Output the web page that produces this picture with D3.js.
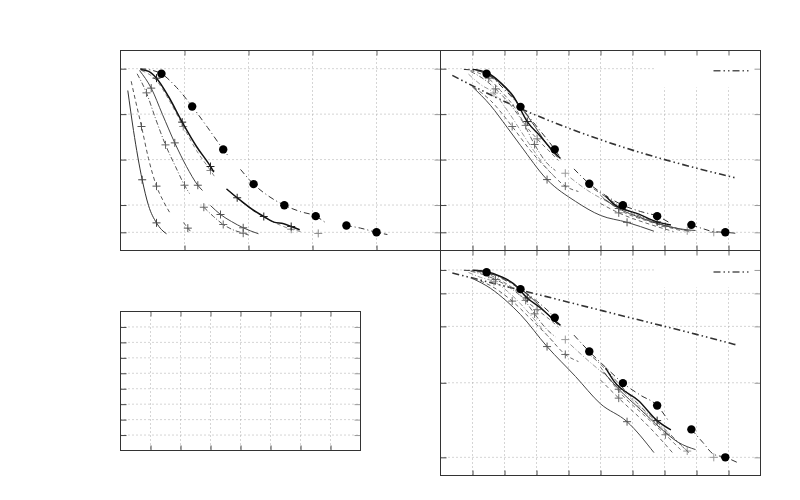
<!DOCTYPE html>
<html><head><meta charset="utf-8">
<script src="https://cdn.jsdelivr.net/npm/d3@7"></script>
<style>html,body{margin:0;padding:0;background:#fff;}svg{display:block;}</style>
</head><body>
<svg id="c" width="800" height="500"></svg>
<script>
// ---------- tick values ----------
const p1XTicks = [1, 2, 3, 4];
const p2XTicks = [1, 2, 3, 4, 5, 6, 7, 8, 9];
const yTicks = [0.1, 0.25, 0.5, 0.75, 1.0];
const p4XTicks = [1, 2, 3, 4, 5, 6, 7];
const p4YTicks = [1, 2, 3, 4, 5, 6, 7, 8];

// ---------- panel 1 series (x, y); null = gap ----------
const p1DotLine = [[0.31,1.0],[0.47,0.993],[0.64,0.972],[0.875,0.897],[1.12,0.792],[1.36,0.677],[1.605,0.556],[1.69,0.517],null,
  [1.875,0.446],[2.08,0.365],[2.31,0.30],[2.56,0.249],[2.81,0.214],[3.05,0.189],[3.20,0.154],null,
  [3.52,0.1375],[3.75,0.123],[4.0,0.1],[4.17,0.088]];
const p1DotMarks = [[0.64,0.972],[1.12,0.792],[1.605,0.556],[2.08,0.365],[2.56,0.249],[3.05,0.189],[3.53,0.1375],[4.0,0.1]];
const p1BoldLine = [[0.31,0.996],[0.44,0.985],[0.5625,0.948],[0.75,0.847],[0.964,0.706],[1.1875,0.572],[1.406,0.462],[1.458,0.431],null,
  [1.656,0.339],[1.823,0.29],[2.083,0.22],[2.239,0.187],[2.396,0.156],[2.55,0.147],[2.667,0.132],[2.80,0.114]];
const p1BoldMarks = [[0.5625,0.948],[0.964,0.706],[1.406,0.462],[1.823,0.29],[2.239,0.187],[2.667,0.132]];
const p1GrayLine = [[0.33,0.99],[0.5625,0.935],[0.78,0.814],[0.98,0.682],[1.1875,0.55],[1.406,0.44],[1.469,0.407],null,
  [1.72,0.319],[2.03,0.231],[2.344,0.165],[2.667,0.117],[2.8125,0.1045]];
const p1GrayMarks = [[0.98,0.682],[1.406,0.44],[2.667,0.117],[3.09,0.094]];
const p1CLine = [[0.26,0.972],[0.406,0.867],[0.547,0.726],[0.703,0.581],[0.859,0.462],[1.0,0.359],[1.078,0.3135],null,
  [1.302,0.238],[1.453,0.187],[1.605,0.143],[1.75,0.115],[1.917,0.095],[2.0,0.085]];
const p1CMarks = [[0.406,0.867],[0.703,0.581],[1.0,0.359],[1.302,0.238],[1.605,0.143],[1.917,0.095]];
const p1DLine = [[0.297,0.99],[0.48,0.893],[0.656,0.748],[0.848,0.592],[1.031,0.462],[1.208,0.359],[1.281,0.330],null,
  [1.406,0.2475],[1.5625,0.198],[1.734,0.1595],[1.917,0.125],[2.156,0.092]];
const p1DMarks = [[0.48,0.893],[0.848,0.592],[1.208,0.359],[1.5625,0.198],[1.917,0.125]];
const p1BLine = [[0.167,0.931],[0.234,0.825],[0.328,0.682],[0.4375,0.506],[0.5625,0.354],[0.672,0.27],[0.781,0.202],null,
  [0.984,0.154],[1.052,0.123],[1.12,0.095]];
const p1BMarks = [[0.328,0.682],[0.5625,0.354],[1.052,0.123]];
const p1ALine = [[0.114,0.88],[0.203,0.66],[0.339,0.389],[0.4375,0.2475],[0.5625,0.152],[0.64,0.115],[0.719,0.092]];
const p1AMarks = [[0.339,0.389],[0.5625,0.152]];

// ---------- panels 2 & 3 series (same data, linear / log y) ----------
const p2DotLine = [[0.73,0.996],[1.09,0.99],[1.44,0.972],[1.97,0.891],[2.5,0.79],[3.03,0.677],[3.57,0.556],[3.70,0.523],null,
  [4.17,0.449],[4.65,0.367],[5.16,0.3025],[5.70,0.249],[6.25,0.2145],[6.77,0.189],[7.13,0.156],null,
  [7.84,0.141],[8.2,0.12],[8.53,0.104],[8.9,0.1],[9.27,0.094]];
const p2DotMarks = [[1.44,0.972],[2.5,0.79],[3.57,0.556],[4.65,0.367],[5.70,0.249],[6.77,0.189],[7.84,0.141],[8.9,0.1]];
const p2RefLine = [[0.37,0.963],[2,0.82],[4,0.673],[6,0.552],[8,0.453],[9.25,0.398]];
const p2S1Line = [[1.0,0.9],[1.5625,0.798],[2.08,0.678],[2.5,0.578],[3.33,0.39],[4.22,0.27],[5.0,0.193],[5.83,0.155],[6.67,0.106]];
const p2S1Marks = [[3.33,0.39],[5.83,0.155]];
const p2D1Line = [[1.04,0.898],[1.5625,0.825],[2.24,0.682],[2.81,0.55],[3.375,0.44],[3.9,0.354],[4.31,0.3245],null,
  [5.0,0.2585],[5.57,0.207],[6.56,0.143],[7.28,0.1045]];
const p2D1Marks = [[2.24,0.682],[3.9,0.354],[5.57,0.207]];
const p2U1Line = [[1.0,0.996],[1.44,0.979],[1.875,0.924],[2.28,0.847],[2.71,0.709],[3.125,0.627],[3.5,0.55],[3.75,0.506],null,
  [5.16,0.30],[5.42,0.255],[6.2,0.2],[6.77,0.157],[7.2,0.14]];
const p2U1Marks = [[2.71,0.709],[6.77,0.157]];
const p2U2Line = [[1.06,0.996],[1.56,0.96],[2.03,0.891],[2.5,0.792],[2.97,0.677],[3.375,0.572],[3.66,0.512],null,
  [5.09,0.286],[5.57,0.231],[6.25,0.18],[6.875,0.143],[7.44,0.12],[7.97,0.11]];
const p2U2Marks = [[1.51,0.948],[5.57,0.231]];
const p2U3Line = [[0.94,0.99],[1.5,0.946],[1.875,0.88],[2.34,0.781],[2.66,0.688],[3.02,0.614],[3.44,0.539],[3.69,0.495],null,
  [5.0,0.303],[5.625,0.22],[6.41,0.165],[7.03,0.132],[7.5,0.11]];
const p2U3Marks = [[2.66,0.688],[3.02,0.614],[7.03,0.132]];
const p2U4Line = [[0.94,0.985],[1.375,0.94],[1.72,0.889],[2.19,0.8],[2.56,0.71],[2.94,0.583],[3.31,0.484],[3.59,0.44],null,
  [4.53,0.369],[5.0,0.314],[5.625,0.242],[6.25,0.187],[7.19,0.132],[7.81,0.104]];
const p2U4Marks = [[1.72,0.889],[2.94,0.583]];
const p2U5Line = [[0.875,0.97],[1.25,0.913],[1.67,0.866],[2.09,0.77],[2.5,0.66],[2.91,0.55],[3.28,0.46],[3.53,0.413],null,
  [4.06,0.4],[4.6,0.33],[5.2,0.27],[5.9,0.21],[6.6,0.16],[7.3,0.125],[7.71,0.108]];
const p2U5Marks = [[1.67,0.866],[3.9,0.425],[7.71,0.108],[8.54,0.1]];

// ---------- drawing ----------
const svg = d3.select('#c');
const root = svg.append('g').attr('transform','translate(0.5,0.5)');

const panels = [
  {id:'p1', x:d3.scaleLinear([0,5],[120,440]), y:d3.scaleLinear([0,1.1],[250,50]), xt:p1XTicks, yt:yTicks},
  {id:'p2', x:d3.scaleLinear([0,10],[440,760]), y:d3.scaleLinear([0,1.1],[250,50]), xt:p2XTicks, yt:yTicks, key:true},
  {id:'p3', x:d3.scaleLinear([0,10],[440,760]), y:d3.scaleLog([0.08,1.27],[475,250]), xt:p2XTicks, yt:yTicks, key:true},
  {id:'p4', x:d3.scaleLinear([0,8],[120,360]), y:d3.scaleLinear([0,9],[450,311]), xt:p4XTicks, yt:p4YTicks}
];

const defs = svg.append('defs');
panels.forEach(p => {
  const [x0,x1] = p.x.range(), [y1,y0] = p.y.range();
  p.x0=x0; p.x1=x1; p.y0=y0; p.y1=y1;
  defs.append('clipPath').attr('id','clip-'+p.id).append('rect')
    .attr('x',x0).attr('y',y0).attr('width',x1-x0).attr('height',y1-y0);
});

// grid
panels.forEach(p => {
  const g = root.append('g');
  g.selectAll('line.v').data(p.xt).join('line')
    .attr('x1',d=>p.x(d)).attr('x2',d=>p.x(d)).attr('y1',p.y0).attr('y2',p.y1)
    .attr('stroke','#aaa').attr('stroke-dasharray','1,3');
  g.selectAll('line.h').data(p.yt).join('line')
    .attr('x1',p.x0).attr('x2',p.x1).attr('y1',d=>p.y(d)).attr('y2',d=>p.y(d))
    .attr('stroke','#aaa').attr('stroke-dasharray','1,3');
  if (p.key) {
    root.append('rect').attr('x',655).attr('y',p.y0+1).attr('width',p.x1-655-1).attr('height',36).attr('fill','#fff');
  }
});

// series
const lineStyles = [
  {p:0, line:p1ALine, marks:p1AMarks, color:'#333', w:1, dash:null, mc:'#444'},
  {p:0, line:p1BLine, marks:p1BMarks, color:'#555', w:1, dash:'4,3', mc:'#555'},
  {p:0, line:p1CLine, marks:p1CMarks, color:'#555', w:1, dash:'5,2,1,2', mc:'#666'},
  {p:0, line:p1DLine, marks:p1DMarks, color:'#444', w:1, dash:null, mc:'#555'},
  {p:0, line:p1GrayLine, marks:p1GrayMarks, color:'#888', w:1, dash:'4,3', mc:'#888'},
  {p:0, line:p1BoldLine, marks:p1BoldMarks, color:'#111', w:1.5, dash:null, mc:'#222'},
  {p:0, line:p1DotLine, marks:p1DotMarks, color:'#333', w:1, dash:'6,3,1,3', circle:true},
];
const p23Styles = [
  {line:p2RefLine, marks:[], color:'#333', w:1.6, dash:'7,3,1.5,3,1.5,3'},
  {line:p2S1Line, marks:p2S1Marks, color:'#444', w:1, dash:null, mc:'#555'},
  {line:p2D1Line, marks:p2D1Marks, color:'#666', w:1, dash:'4,3', mc:'#666'},
  {line:p2U5Line, marks:p2U5Marks, color:'#999', w:1, dash:'5,2,1,2', mc:'#999'},
  {line:p2U4Line, marks:p2U4Marks, color:'#666', w:1, dash:'5,2,1,2', mc:'#666'},
  {line:p2U3Line, marks:p2U3Marks, color:'#777', w:1, dash:'4,3', mc:'#777'},
  {line:p2U2Line, marks:p2U2Marks, color:'#444', w:1, dash:null, mc:'#555'},
  {line:p2U1Line, marks:p2U1Marks, color:'#111', w:1.4, dash:null, mc:'#222'},
  {line:p2DotLine, marks:p2DotMarks, color:'#333', w:1, dash:'6,3,1,3', circle:true},
];
p23Styles.forEach(s => { lineStyles.push(Object.assign({p:1}, s)); lineStyles.push(Object.assign({p:2}, s)); });

lineStyles.forEach(s => {
  const p = panels[s.p];
  const g = root.append('g').attr('clip-path','url(#clip-'+p.id+')');
  const gen = d3.line().defined(d=>d!==null).x(d=>p.x(d[0])).y(d=>p.y(d[1])).curve(d3.curveMonotoneX);
  g.append('path').attr('d',gen(s.line)).attr('fill','none').attr('stroke',s.color)
    .attr('stroke-width',s.w).attr('stroke-dasharray',s.dash);
  if (s.circle) {
    g.selectAll('circle').data(s.marks).join('circle')
      .attr('cx',d=>p.x(d[0])).attr('cy',d=>p.y(d[1])).attr('r',4.2).attr('fill','#000');
  } else {
    g.selectAll('path.m').data(s.marks).join('path').attr('class','m')
      .attr('d',d=>{const x=p.x(d[0]), y=p.y(d[1]); return `M${x-4},${y}h8M${x},${y-4}v8`;})
      .attr('stroke',s.mc).attr('stroke-width',1).attr('fill','none');
  }
});

// legend samples
[panels[1], panels[2]].forEach(p => {
  const ly = p.y(1.0) + 2;
  root.append('line').attr('x1',713).attr('x2',748).attr('y1',ly).attr('y2',ly)
    .attr('stroke','#555').attr('stroke-width',1.5).attr('stroke-dasharray','7,3,1.5,3,1.5,3');
});

// ticks via d3 axes (inward), and frames
panels.forEach(p => {
  const fmt = () => '';
  root.append('g').attr('transform',`translate(${p.x0},0)`)
    .call(d3.axisLeft(p.y).tickValues(p.yt).tickSize(-6).tickFormat(fmt))
    .call(g=>{g.select('.domain').remove(); g.selectAll('line').attr('stroke','#444');});
  root.append('g').attr('transform',`translate(${p.x1},0)`)
    .call(d3.axisRight(p.y).tickValues(p.yt).tickSize(-6).tickFormat(fmt))
    .call(g=>{g.select('.domain').remove(); g.selectAll('line').attr('stroke','#999');});
  root.append('g').attr('transform',`translate(0,${p.y1})`)
    .call(d3.axisBottom(p.x).tickValues(p.xt).tickSize(-5).tickFormat(fmt))
    .call(g=>{g.select('.domain').remove(); g.selectAll('line').attr('stroke','#444');});
  root.append('g').attr('transform',`translate(0,${p.y0})`)
    .call(d3.axisTop(p.x).tickValues(p.xt).tickSize(-5).tickFormat(fmt))
    .call(g=>{g.select('.domain').remove(); g.selectAll('line').attr('stroke','#666');});
  root.append('rect').attr('x',p.x0).attr('y',p.y0).attr('width',p.x1-p.x0).attr('height',p.y1-p.y0)
    .attr('fill','none').attr('stroke','#333').attr('stroke-width',1);
});
</script>
</body></html>
